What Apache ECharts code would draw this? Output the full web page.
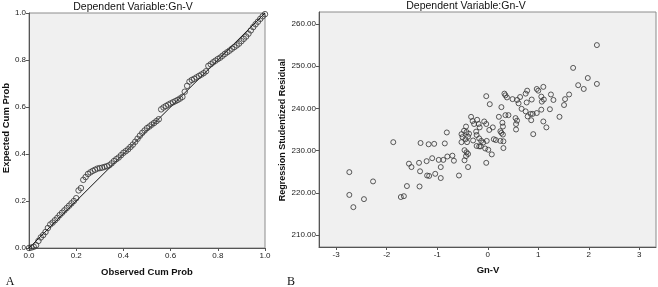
<!DOCTYPE html>
<html><head><meta charset="utf-8">
<script src="https://cdn.jsdelivr.net/npm/echarts@6/dist/echarts.min.js"></script>
<style>html,body{margin:0;padding:0;background:#fff}#c{width:658px;height:287px}</style>
</head><body><div id="c"></div>
<script>
// Panel A: normal P-P plot (observed vs expected cumulative probability)
const ppObserved = [0.00,0.01,0.02,0.03,0.04,0.05,0.06,0.07,0.08,0.09,0.10,0.11,0.12,0.13,0.14,0.15,0.16,0.17,0.18,0.19,
  0.20,0.21,0.22,0.23,0.24,0.25,0.26,0.27,0.28,0.29,0.30,0.31,0.32,0.33,0.34,0.35,0.36,0.37,0.38,0.39,
  0.40,0.41,0.42,0.43,0.44,0.45,0.46,0.47,0.48,0.49,0.50,0.51,0.52,0.53,0.54,0.55,0.56,0.57,0.58,0.59,
  0.60,0.61,0.62,0.63,0.64,0.65,0.66,0.67,0.68,0.69,0.70,0.71,0.72,0.73,0.74,0.75,0.76,0.77,0.78,0.79,
  0.80,0.81,0.82,0.83,0.84,0.85,0.86,0.87,0.88,0.89,0.90,0.91,0.92,0.93,0.94,0.95,0.96,0.97,0.98,0.99,1.00];
const ppExpected = [0.000,0.002,0.005,0.012,0.030,0.045,0.055,0.068,0.085,0.100,0.108,0.118,0.128,0.140,0.150,0.160,0.170,0.180,0.190,0.200,
  0.212,0.245,0.255,0.290,0.302,0.315,0.322,0.328,0.333,0.338,0.340,0.342,0.345,0.348,0.352,0.360,0.370,0.378,0.385,0.395,
  0.405,0.412,0.420,0.430,0.440,0.452,0.465,0.478,0.490,0.500,0.510,0.517,0.525,0.532,0.540,0.548,0.590,0.598,0.604,0.610,
  0.615,0.620,0.625,0.630,0.636,0.643,0.665,0.690,0.708,0.715,0.720,0.726,0.732,0.738,0.744,0.752,0.775,0.782,0.790,0.797,
  0.804,0.810,0.818,0.826,0.833,0.840,0.848,0.855,0.862,0.870,0.880,0.890,0.900,0.912,0.926,0.940,0.952,0.963,0.975,0.986,0.995];
const refLineX = [0, 1];
const refLineY = [0, 1];

// Panel B: scatter of residual vs Gn-V
const gnV = [2.16,1.69,1.98,1.79,1.90,2.16,1.61,1.53,1.51,1.42,1.25,1.30,1.23,1.10,0.97,1.00,1.06,1.11,1.07,
  0.78,0.75,0.87,0.77,0.64,0.58,0.61,0.49,0.33,0.35,0.38,-0.03,0.04,0.27,0.67,0.75,0.85,0.89,0.97,1.06,0.79,
  0.55,0.58,0.56,0.56,0.35,0.41,0.22,0.29,0.30,0.25,0.27,0.30,0.10,
  0.03,0.86,1.10,1.16,0.90,0.31,0.25,0.12,0.16,-0.02,0.08,-0.03,0.31,-0.05,0.01,-0.22,-0.17,-0.14,
  -0.09,
  -0.52,-0.41,-0.44,-0.29,-0.17,-0.13,-0.52,-0.50,-0.39,-0.43,-0.47,-0.42,-0.37,-0.23,-0.22,-0.33,
  -0.30,-0.21,-0.27,-0.18,
  -0.07,-0.03,-0.16,
  -0.81,-0.85,
  -0.46,-0.42,-0.39,-0.43,
  -0.46,-0.39,-0.57,-0.70,-0.80,
  -0.97,-0.88,
  -0.67,-0.93,-0.93,-1.04,-1.20,-1.16,-1.34,-1.10,-1.21,-1.36,-1.56,-1.51,-1.87,-1.33,-1.17,-1.06,
  -2.74,-2.27,-2.74,-2.45,-2.66,-1.72,-1.66,-1.60,-1.35];
const residual = [255.0,249.6,247.2,245.5,244.6,245.8,243.3,242.2,240.8,238.0,243.3,242.0,239.8,245.1,244.6,244.2,242.8,242.1,241.6,
  244.2,243.5,242.1,241.4,242.7,242.0,241.2,242.2,243.5,243.1,242.6,242.9,241.0,240.3,239.9,239.3,238.7,238.7,238.9,239.7,238.1,
  237.7,237.1,236.3,235.0,238.4,238.4,238.0,236.6,235.7,234.6,234.2,233.8,235.5,
  234.9,237.2,236.9,235.5,233.9,232.2,232.3,232.7,232.5,232.3,229.1,227.1,230.6,230.5,230.2,231.1,231.0,231.0,
  231.9,
  232.0,232.0,232.7,232.4,232.9,232.3,233.9,233.2,233.3,235.7,234.7,234.4,234.0,234.5,233.7,238.0,
  237.0,237.3,236.3,236.3,
  236.9,236.3,235.5,
  234.3,231.7,
  230.1,229.6,229.2,228.7,
  227.7,226.1,224.1,228.8,228.6,
  227.8,227.8,
  227.6,226.1,223.5,224.5,224.1,224.0,225.1,228.2,227.5,227.1,226.9,226.1,232.0,231.8,231.5,231.6,
  224.9,222.7,219.5,218.5,216.6,219.0,219.2,221.6,221.5];

const titleText = 'Dependent Variable:Gn-V';
const ppXName = 'Observed Cum Prob';
const ppYName = 'Expected Cum Prob';
const scXName = 'Gn-V';
const scYName = 'Regression Studentized Residual';

const FONT = '"Liberation Sans", Arial, sans-serif';
const tickLabel = {color: '#222', fontSize: 8, fontFamily: FONT};
const axisLine = {show: true, onZero: false, lineStyle: {color: '#555', width: 1}};
const axisTick = {show: true, length: 3, inside: false, lineStyle: {color: '#555', width: 1}};
const markerStyle = {color: 'rgba(0,0,0,0)', borderColor: '#333', borderWidth: 1};

const chart = echarts.init(document.getElementById('c'), null, {renderer: 'canvas'});
chart.setOption({
  animation: false,
  backgroundColor: '#ffffff',
  grid: [
    {left: 29, top: 13, width: 236, height: 235, show: true, backgroundColor: '#f0f0f0', borderColor: '#8c8c8c', borderWidth: 1},
    {left: 319, top: 12, width: 337, height: 235, show: true, backgroundColor: '#f0f0f0', borderColor: '#8c8c8c', borderWidth: 1}
  ],
  xAxis: [
    {gridIndex: 0, type: 'value', min: 0, max: 1, interval: 0.2, axisLine, axisTick, splitLine: {show: false},
     axisLabel: Object.assign({margin: 4, formatter: v => v.toFixed(1)}, tickLabel)},
    {gridIndex: 1, type: 'value', min: -3.34, max: 3.33, splitNumber: 6, axisLine, axisTick, splitLine: {show: false},
     axisLabel: Object.assign({margin: 4, showMinLabel: false, showMaxLabel: false,
       formatter: v => (Math.abs(v - Math.round(v)) < 1e-6 ? String(Math.round(v)) : '')}, tickLabel)}
  ],
  yAxis: [
    {gridIndex: 0, type: 'value', min: 0, max: 1, interval: 0.2, axisLine, axisTick, splitLine: {show: false},
     axisLabel: Object.assign({margin: 3, formatter: v => v.toFixed(1)}, tickLabel)},
    {gridIndex: 1, type: 'value', min: 207.16, max: 262.84, splitNumber: 5, axisLine, axisTick, splitLine: {show: false},
     axisLabel: Object.assign({margin: 3, showMinLabel: false, showMaxLabel: false,
       formatter: v => (Math.abs(v / 10 - Math.round(v / 10)) < 1e-6 ? v.toFixed(2) : '')}, tickLabel)}
  ],
  series: [
    {type: 'line', xAxisIndex: 0, yAxisIndex: 0, data: refLineX.map((v, i) => [v, refLineY[i]]),
     symbol: 'none', lineStyle: {color: '#111', width: 1}, silent: true, z: 2},
    {type: 'scatter', xAxisIndex: 0, yAxisIndex: 0, data: ppObserved.map((v, i) => [v, ppExpected[i]]),
     symbol: 'circle', symbolSize: 5.5, itemStyle: markerStyle, z: 3},
    {type: 'scatter', xAxisIndex: 1, yAxisIndex: 1, data: gnV.map((v, i) => [v, residual[i]]),
     symbol: 'circle', symbolSize: 5, itemStyle: markerStyle, z: 3}
  ],
  graphic: [
    {type: 'text', x: 133, y: 7, style: {text: titleText, font: '10.5px ' + FONT, textAlign: 'center', textVerticalAlign: 'middle', fill: '#111'}},
    {type: 'text', x: 466, y: 6, style: {text: titleText, font: '10.5px ' + FONT, textAlign: 'center', textVerticalAlign: 'middle', fill: '#111'}},
    {type: 'text', x: 147, y: 272, style: {text: ppXName, font: 'bold 9.5px ' + FONT, textAlign: 'center', textVerticalAlign: 'middle', fill: '#111'}},
    {type: 'text', x: 488, y: 270, style: {text: scXName, font: 'bold 9.5px ' + FONT, textAlign: 'center', textVerticalAlign: 'middle', fill: '#111'}},
    {type: 'text', x: 6, y: 128, rotation: Math.PI / 2, style: {text: ppYName, font: 'bold 9.5px ' + FONT, textAlign: 'center', textVerticalAlign: 'middle', fill: '#111'}},
    {type: 'text', x: 283, y: 130, rotation: Math.PI / 2, style: {text: scYName, font: 'bold 9px ' + FONT, textAlign: 'center', textVerticalAlign: 'middle', fill: '#111'}},
    {type: 'text', x: 10, y: 282, style: {text: 'A', font: '12px "Liberation Serif", serif', textAlign: 'center', textVerticalAlign: 'middle', fill: '#111'}},
    {type: 'text', x: 291, y: 282, style: {text: 'B', font: '12px "Liberation Serif", serif', textAlign: 'center', textVerticalAlign: 'middle', fill: '#111'}}
  ]
});
</script>
</body></html>
